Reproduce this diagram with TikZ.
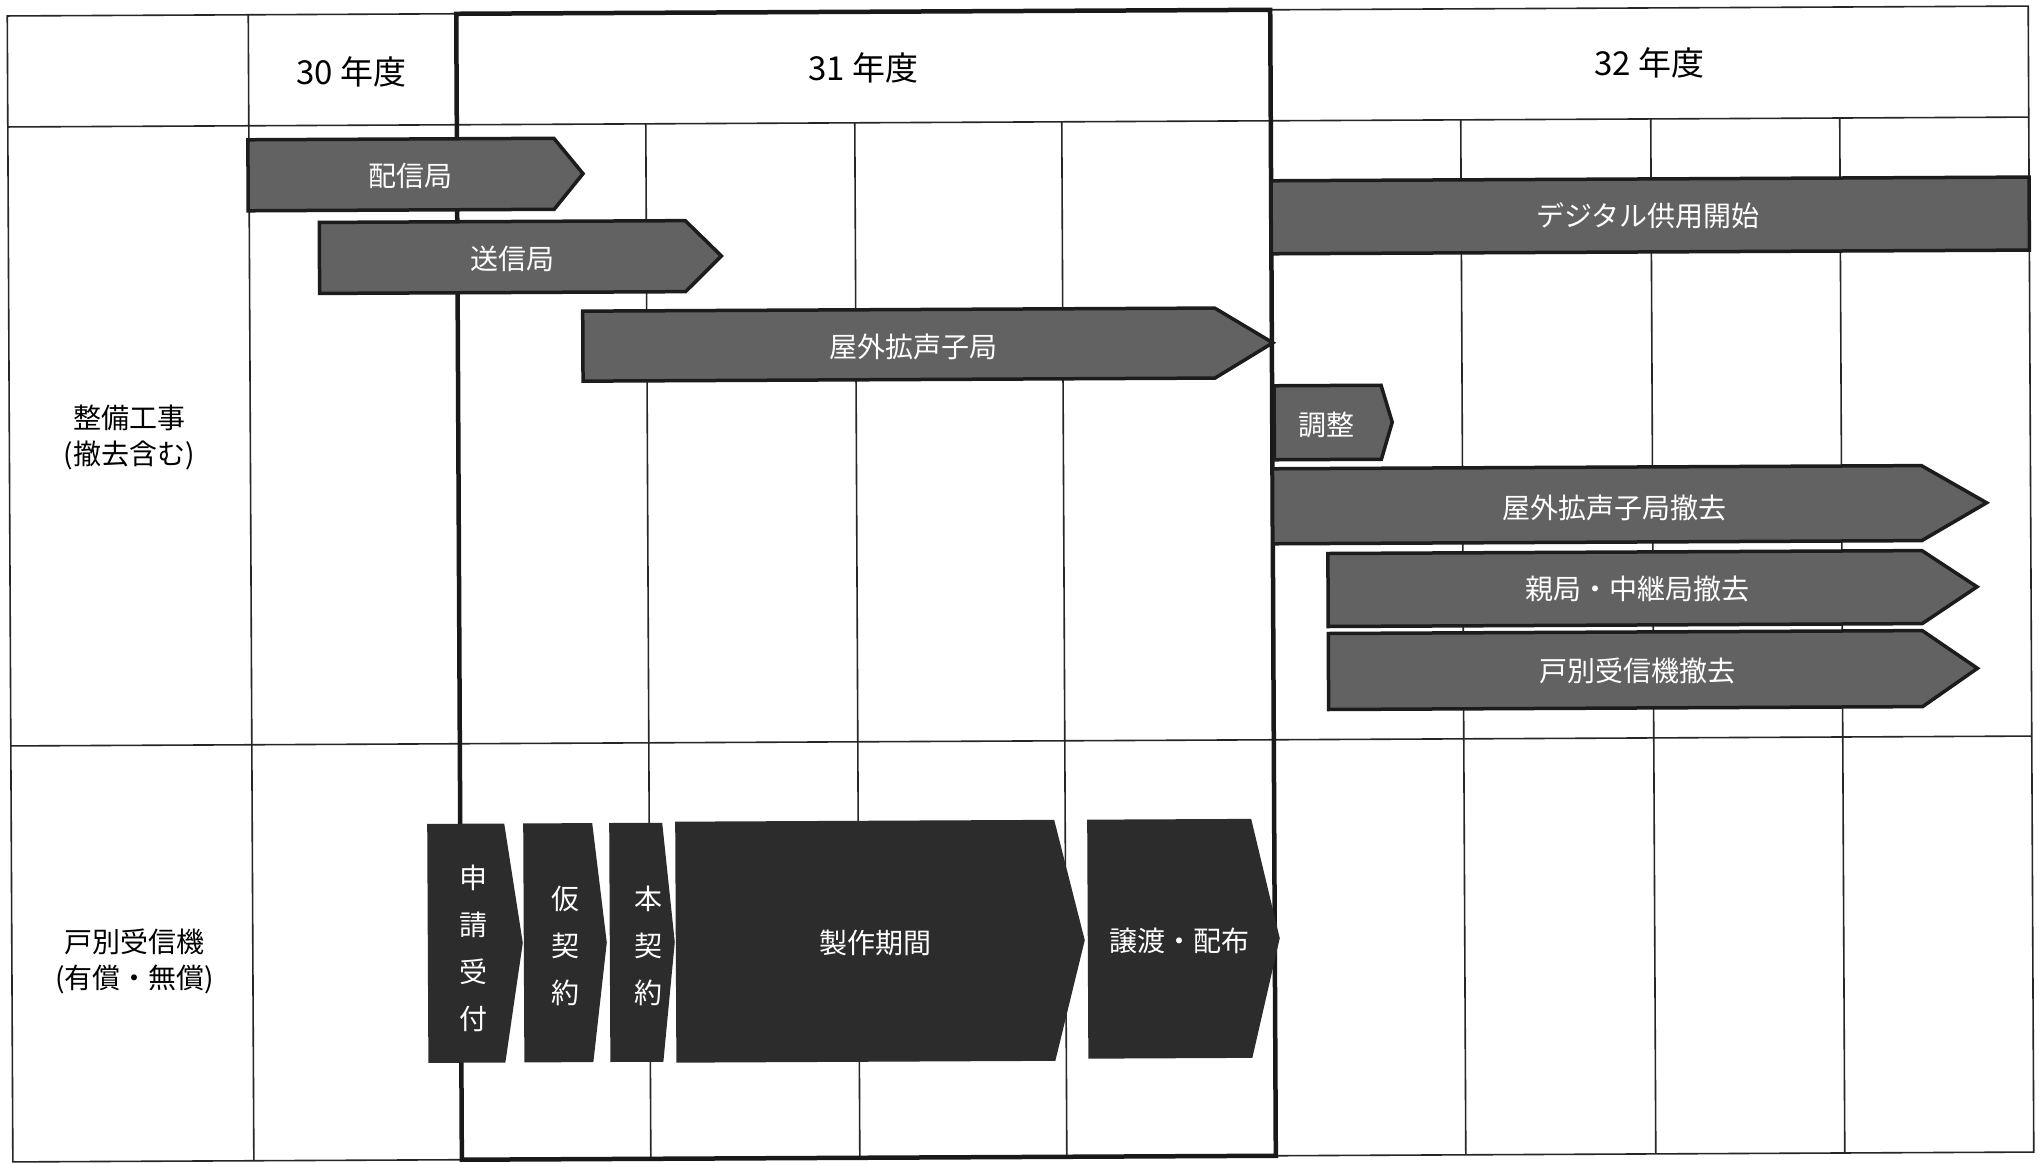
\documentclass[tikz,border=0pt]{standalone}
\usepackage{fontspec}
\newfontfamily\jp{Noto Sans CJK JP}
\definecolor{barfill}{RGB}{98,98,98}
\definecolor{barline}{RGB}{28,28,28}
\definecolor{darkfill}{RGB}{44,44,44}
\newcommand\pentbar[6]{\path[#1] (#2,#3) -- (#4,#3) -- (#5,{(#3+#6)/2}) -- (#4,#6) -- (#2,#6) -- cycle;}
\begin{document}
\begin{tikzpicture}[x=1pt,y=-1pt,
  gridline/.style={line width=1.6pt, draw=black!85},
  thickline/.style={line width=4.5pt, draw=black!90},
  bar/.style={fill=barfill, draw=barline, line width=3.5pt, line join=miter},
  darkbar/.style={fill=darkfill},
  bartext/.style={text=white, font=\jp\fontsize{28}{30}\selectfont, inner sep=0pt},
  vtext/.style={text=white, font=\jp\fontsize{28}{47}\selectfont, inner sep=0pt, align=center},
  yeartext/.style={font=\jp\fontsize{33}{36}\selectfont, inner sep=0pt},
  rowtext/.style={font=\jp\fontsize{28}{36}\selectfont, inner sep=0pt, align=center}]
\useasboundingbox[fill=white] (0,0) rectangle (2039,1163);
\begin{scope}[rotate around={0.28:(1020,580)}]
% grid
\draw[gridline] (10,11) rectangle (2031,1157);
\draw[gridline] (10,122) -- (2031,122);
\draw[gridline] (10,741) -- (2031,741);
\draw[gridline] (251,11) -- (251,1157);
\foreach \xx in {648,857,1064,1463,1653,1842}
  \draw[gridline] (\xx,122) -- (\xx,1157);
\draw[thickline] (459,11) rectangle (1273,1157);
% headers
\node[yeartext] (y30) at (354,69) {30 年度};
\node[yeartext] (y31) at (866,67) {31 年度};
\node[yeartext] (y32) at (1652,66) {32 年度};
\node[rowtext] (r1) at (130,433) {整備工事\\(撤去含む)};
\node[rowtext] (r2) at (133,957) {戸別受信機\\(有償・無償)};
% upper bars
\pentbar{bar}{250}{136}{556}{585}{207}
\node[bartext] (b1) at (412,173) {配信局};
\pentbar{bar}{321}{219}{687}{723}{290}
\node[bartext] (b2) at (514,256) {送信局};
\pentbar{bar}{584}{309}{1216}{1274}{379}
\node[bartext] (b3) at (915,346) {屋外拡声子局};
\path[bar] (1273,182) rectangle (2031,255);
\node[bartext] (b4) at (1650,219) {デジタル供用開始};
\pentbar{bar}{1275}{387}{1382}{1393}{461}
\node[bartext] (b5) at (1327,426) {調整};
\pentbar{bar}{1273}{470}{1922}{1987}{545}
\node[bartext] (b6) at (1615,511) {屋外拡声子局撤去};
\pentbar{bar}{1328}{555}{1922}{1977}{628}
\node[bartext] (b7) at (1637,592) {親局・中継局撤去};
\pentbar{bar}{1328}{635}{1922}{1977}{711}
\node[bartext] (b8) at (1637,674) {戸別受信機撤去};
% lower bars
\pentbar{darkbar}{426}{821}{503}{521}{1060}
\node[vtext] (c1) at (472,946) {申\\請\\受\\付};
\pentbar{darkbar}{522}{821}{591}{605}{1060}
\node[vtext] (c2) at (564,944) {仮\\契\\約};
\pentbar{darkbar}{608}{821}{661}{673}{1060}
\node[vtext] (c3) at (647,944) {本\\契\\約};
\pentbar{darkbar}{674}{820}{1053}{1083}{1061}
\node[bartext] (c4) at (874,942) {製作期間};
\pentbar{darkbar}{1086}{820}{1250}{1278}{1059}
\node[bartext] (c5) at (1178,942) {譲渡・配布};
\end{scope}
\end{tikzpicture}
\end{document}
